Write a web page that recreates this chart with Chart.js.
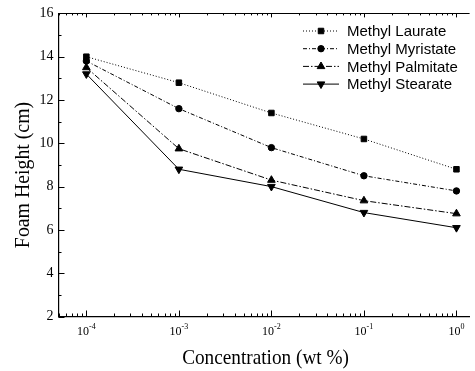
<!DOCTYPE html>
<html><head><meta charset="utf-8">
<script src="https://cdn.jsdelivr.net/npm/chart.js@4.4.0/dist/chart.umd.min.js"></script>
<style>html,body{margin:0;padding:0;background:#fff}#wrap{width:475px;height:371px}</style>
</head><body><div id="wrap"><canvas id="c" width="475" height="371"></canvas></div>
<script>
// ---- data ----
const concentrations = [1e-4, 1e-3, 1e-2, 1e-1, 1];
const seriesNames = ['Methyl Laurate', 'Methyl Myristate', 'Methyl Palmitate', 'Methyl Stearate'];
const laurate   = [14.0, 12.8, 11.4, 10.2, 8.8];
const myristate = [13.8, 11.6, 9.8, 8.5, 7.8];
const palmitate = [13.5, 9.75, 8.3, 7.35, 6.75];
const stearate  = [13.2, 8.8, 8.0, 6.8, 6.1];
const xTickExponents = [-4, -3, -2, -1, 0];
const yTickValues = [2, 4, 6, 8, 10, 12, 14, 16];
const xTitle = 'Concentration (wt %)';
const yTitle = 'Foam Height (cm)';

// ---- styles ----
const seriesValues = [laurate, myristate, palmitate, stearate];
const seriesStyles = [
  {pointStyle: 'rect', rotation: 0, radius: 3.9, dash: [1, 2]},
  {pointStyle: 'circle', rotation: 0, radius: 3.2, dash: [4, 2, 1, 2]},
  {pointStyle: 'triangle', rotation: 0, radius: 4.4, dash: [6, 2, 1.5, 2]},
  {pointStyle: 'triangle', rotation: 180, radius: 4.4, dash: []}
];

const datasets = seriesNames.map((name, i) => ({
  label: name,
  data: concentrations.map((c, j) => ({x: c, y: seriesValues[i][j]})),
  showLine: true,
  borderColor: '#000',
  borderWidth: 1,
  borderDash: seriesStyles[i].dash,
  pointStyle: seriesStyles[i].pointStyle,
  rotation: seriesStyles[i].rotation,
  pointRotation: seriesStyles[i].rotation,
  pointRadius: seriesStyles[i].radius,
  pointHoverRadius: seriesStyles[i].radius,
  pointBackgroundColor: '#000',
  pointBorderColor: '#000',
  pointBorderWidth: 1,
  fill: false,
  tension: 0
}));

function drawMarker(ctx, style, radius, x, y) {
  if (Chart.helpers && Chart.helpers.drawPoint) {
    Chart.helpers.drawPoint(ctx, {pointStyle: style.pointStyle, rotation: style.rotation, radius: radius, borderWidth: 1}, x, y);
    return;
  }
  ctx.beginPath();
  ctx.arc(x, y, radius, 0, Math.PI * 2);
  ctx.fill(); ctx.stroke();
}

const decorPlugin = {
  id: 'decor',
  afterDraw(chart) {
    const ctx = chart.ctx;
    const a = chart.chartArea;
    const xs = chart.scales.x, ys = chart.scales.y;
    ctx.save();
    ctx.strokeStyle = '#000';
    ctx.fillStyle = '#000';
    ctx.lineWidth = 1;
    // top frame
    ctx.beginPath();
    ctx.moveTo(a.left, Math.round(a.top) + 0.5);
    ctx.lineTo(a.right, Math.round(a.top) + 0.5);
    ctx.stroke();
    // y ticks (inward, left axis)
    for (let v = 2; v <= 16; v++) {
      const py = Math.round(ys.getPixelForValue(v)) + 0.5;
      const len = (v % 2 === 0) ? 6 : 3;
      ctx.beginPath();
      ctx.moveTo(a.left, py);
      ctx.lineTo(a.left + len, py);
      ctx.stroke();
    }
    // x ticks (inward, bottom and top)
    for (let e = -5; e <= 0; e++) {
      for (let m = 1; m <= 9; m++) {
        const v = m * Math.pow(10, e);
        if (v < xs.min || v > xs.max) continue;
        const px = Math.round(xs.getPixelForValue(v)) + 0.5;
        const major = (m === 1);
        ctx.beginPath();
        ctx.moveTo(px, a.bottom);
        ctx.lineTo(px, a.bottom - (major ? 6 : 3));
        ctx.moveTo(px, a.top);
        ctx.lineTo(px, a.top + (major ? 4 : 2));
        ctx.stroke();
      }
    }
    // x tick labels 10^n
    const baseFont = '12px "Liberation Serif"';
    const expFont = '8px "Liberation Serif"';
    ctx.textBaseline = 'alphabetic';
    ctx.textAlign = 'left';
    xTickExponents.forEach(e => {
      const px = xs.getPixelForValue(Math.pow(10, e));
      const expText = e < 0 ? '-' + (-e) : String(e);
      ctx.font = baseFont;
      const w1 = ctx.measureText('10').width;
      ctx.font = expFont;
      const w2 = ctx.measureText(expText).width;
      const x0 = px - (w1 + w2) / 2;
      ctx.font = baseFont;
      ctx.fillText('10', x0, 335);
      ctx.font = expFont;
      ctx.fillText(expText, x0 + w1, 329);
    });
    // axis titles
    ctx.font = '22px "Liberation Serif"';
    ctx.textAlign = 'center';
    ctx.save();
    ctx.translate((a.left + a.right) / 2 + 1.5, 364);
    ctx.scale(0.875, 1);
    ctx.fillText(xTitle, 0, 0);
    ctx.restore();
    ctx.save();
    ctx.translate(28.5, 175);
    ctx.rotate(-Math.PI / 2);
    ctx.scale(0.9, 1);
    ctx.fillText(yTitle, 0, 0);
    ctx.restore();
    // legend
    ctx.font = '15px "Liberation Sans"';
    ctx.textAlign = 'left';
    ctx.textBaseline = 'middle';
    chart.data.datasets.forEach((ds, i) => {
      const y = 32 + i * 17.7;
      const ly = y - 1;
      ctx.save();
      ctx.lineWidth = 1;
      ctx.setLineDash(seriesStyles[i].dash);
      ctx.beginPath();
      ctx.moveTo(303, ly);
      ctx.lineTo(339, ly);
      ctx.stroke();
      ctx.setLineDash([]);
      ctx.fillStyle = '#000';
      ctx.strokeStyle = '#000';
      ctx.lineWidth = 1;
      drawMarker(ctx, seriesStyles[i], seriesStyles[i].radius, 321, ly);
      ctx.restore();
      ctx.fillText(ds.label, 347, y);
    });
    ctx.restore();
  }
};

new Chart(document.getElementById('c'), {
  type: 'scatter',
  data: {datasets},
  plugins: [decorPlugin],
  options: {
    responsive: false,
    devicePixelRatio: 1,
    animation: false,
    layout: {padding: {top: 12, right: 0, left: 0, bottom: 0}},
    plugins: {legend: {display: false}, tooltip: {enabled: false}},
    scales: {
      x: {
        type: 'logarithmic',
        min: 5e-5,
        max: 1.387,
        grid: {display: false, drawTicks: false},
        border: {display: true, color: '#000', width: 1.2},
        ticks: {display: false},
        afterFit: s => { s.height = 54.5; }
      },
      y: {
        type: 'linear',
        min: 2,
        max: 16,
        afterBuildTicks: s => { s.ticks = yTickValues.map(v => ({value: v})); },
        grid: {display: false, drawTicks: false},
        border: {display: true, color: '#000', width: 1.2},
        ticks: {color: '#000', padding: 5, font: {family: 'Liberation Serif', size: 14}},
        afterFit: s => { s.width = 58.5; }
      }
    }
  }
});
</script>
</body></html>
